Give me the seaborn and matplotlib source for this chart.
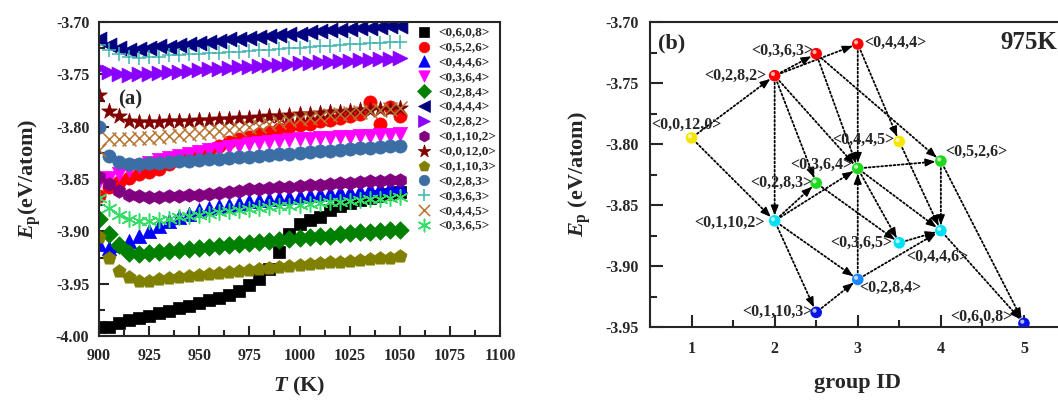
import matplotlib
matplotlib.use("Agg")
import matplotlib.pyplot as plt
import matplotlib.transforms as mtransforms
from matplotlib.ticker import MultipleLocator, FormatStrFormatter
import numpy as np
import seaborn as sns

# ---------------- panel (a): Ep vs T ----------------
temps = np.arange(900, 1051, 5)

ep_0608 = [-3.991, -3.991, -3.988, -3.985, -3.983, -3.981, -3.978, -3.976, -3.973, -3.971, -3.968,
           -3.966, -3.964, -3.961, -3.957, -3.951, -3.946, -3.936, -3.920, -3.903, -3.893, -3.889,
           -3.886, -3.880, -3.876, -3.873, -3.870, -3.868, -3.866, -3.864, -3.862]
ep_0526 = [-3.866, -3.858, -3.853, -3.849, -3.845, -3.843, -3.840, -3.836, -3.832, -3.828, -3.825,
           -3.822, -3.818, -3.815, -3.812, -3.810, -3.807, -3.805, -3.802, -3.800, -3.798, -3.797,
           -3.795, -3.794, -3.792, -3.790, -3.788, -3.776, -3.797, -3.781, -3.790]
ep_0446 = [-3.912, -3.916, -3.913, -3.909, -3.904, -3.900, -3.895, -3.890, -3.886, -3.883, -3.880,
           -3.878, -3.876, -3.875, -3.873, -3.871, -3.870, -3.869, -3.868, -3.867, -3.866, -3.865,
           -3.864, -3.863, -3.862, -3.862, -3.861, -3.860, -3.859, -3.858, -3.857]
ep_0364 = [-3.853, -3.849, -3.845, -3.841, -3.838, -3.835, -3.832, -3.830, -3.828, -3.826, -3.824,
           -3.822, -3.821, -3.819, -3.818, -3.817, -3.816, -3.815, -3.814, -3.813, -3.812, -3.812,
           -3.811, -3.811, -3.810, -3.810, -3.809, -3.809, -3.808, -3.808, -3.807]
ep_0284 = [-3.888, -3.903, -3.913, -3.921, -3.922, -3.921, -3.920, -3.919, -3.918, -3.917, -3.916,
           -3.915, -3.914, -3.913, -3.912, -3.911, -3.910, -3.909, -3.908, -3.907, -3.906, -3.905,
           -3.904, -3.904, -3.903, -3.902, -3.901, -3.901, -3.900, -3.899, -3.899]
ep_0444 = [-3.716, -3.722, -3.725, -3.727, -3.726, -3.725, -3.723, -3.724, -3.722, -3.721, -3.720,
           -3.719, -3.718, -3.716, -3.716, -3.715, -3.714, -3.713, -3.712, -3.711, -3.711, -3.710,
           -3.709, -3.708, -3.708, -3.707, -3.706, -3.706, -3.705, -3.704, -3.704]
ep_0282 = [-3.744, -3.748, -3.750, -3.751, -3.750, -3.750, -3.749, -3.748, -3.748, -3.747, -3.746,
           -3.745, -3.745, -3.744, -3.743, -3.743, -3.742, -3.741, -3.741, -3.740, -3.739, -3.739,
           -3.738, -3.738, -3.737, -3.737, -3.736, -3.736, -3.735, -3.735, -3.734]
ep_01102 = [-3.848, -3.855, -3.861, -3.865, -3.866, -3.867, -3.867, -3.866, -3.866, -3.865, -3.865,
            -3.864, -3.863, -3.862, -3.861, -3.860, -3.860, -3.859, -3.858, -3.858, -3.857, -3.856,
            -3.856, -3.855, -3.854, -3.854, -3.853, -3.852, -3.852, -3.851, -3.851]
ep_00120 = [-3.770, -3.785, -3.790, -3.795, -3.796, -3.796, -3.796, -3.795, -3.795, -3.795, -3.794,
            -3.794, -3.793, -3.793, -3.792, -3.792, -3.791, -3.790, -3.790, -3.789, -3.788, -3.788,
            -3.787, -3.786, -3.786, -3.785, -3.784, -3.784, -3.783, -3.783, -3.782]
ep_01103 = [-3.905, -3.925, -3.938, -3.944, -3.947, -3.947, -3.946, -3.945, -3.944, -3.943, -3.942,
            -3.941, -3.940, -3.939, -3.938, -3.937, -3.936, -3.935, -3.934, -3.933, -3.932, -3.931,
            -3.930, -3.929, -3.929, -3.928, -3.927, -3.926, -3.925, -3.925, -3.924]
ep_0283 = [-3.800, -3.828, -3.834, -3.836, -3.836, -3.835, -3.835, -3.834, -3.833, -3.833, -3.832,
           -3.831, -3.831, -3.830, -3.829, -3.829, -3.828, -3.827, -3.826, -3.826, -3.825, -3.824,
           -3.823, -3.823, -3.822, -3.821, -3.820, -3.820, -3.819, -3.818, -3.818]
ep_0363 = [-3.722, -3.727, -3.731, -3.733, -3.734, -3.733, -3.733, -3.732, -3.732, -3.731, -3.731,
           -3.730, -3.730, -3.729, -3.729, -3.728, -3.727, -3.727, -3.726, -3.725, -3.725, -3.724,
           -3.723, -3.723, -3.722, -3.721, -3.721, -3.720, -3.720, -3.719, -3.719]
ep_0445 = [-3.822, -3.812, -3.812, -3.812, -3.811, -3.811, -3.810, -3.809, -3.808, -3.807, -3.806,
           -3.805, -3.804, -3.803, -3.802, -3.800, -3.799, -3.797, -3.796, -3.794, -3.793, -3.792,
           -3.791, -3.789, -3.788, -3.787, -3.786, -3.785, -3.784, -3.783, -3.782]
ep_0365 = [-3.868, -3.878, -3.884, -3.888, -3.890, -3.890, -3.889, -3.888, -3.886, -3.885, -3.884,
           -3.883, -3.882, -3.881, -3.880, -3.879, -3.878, -3.877, -3.876, -3.876, -3.875, -3.874,
           -3.873, -3.872, -3.872, -3.871, -3.870, -3.869, -3.869, -3.868, -3.867]

series_labels = ["<0,6,0,8>", "<0,5,2,6>", "<0,4,4,6>", "<0,3,6,4>", "<0,2,8,4>", "<0,4,4,4>",
                 "<0,2,8,2>", "<0,1,10,2>", "<0,0,12,0>", "<0,1,10,3>", "<0,2,8,3>", "<0,3,6,3>",
                 "<0,4,4,5>", "<0,3,6,5>"]
series_values = [ep_0608, ep_0526, ep_0446, ep_0364, ep_0284, ep_0444, ep_0282, ep_01102,
                 ep_00120, ep_01103, ep_0283, ep_0363, ep_0445, ep_0365]
series_colors = ["#000000", "#ff0000", "#0000ff", "#ff00ff", "#008000", "#000080", "#8a00ff",
                 "#800080", "#800000", "#808000", "#3a6ea5", "#3fb5b0", "#b8732e", "#33dd66"]
series_markers = ["s", "o", "^", "v", "D", "<", ">", "h", "*", "p", "o", "+", "x", (6, 2, 0)]
series_sizes = [85, 90, 105, 105, 80, 115, 115, 95, 140, 100, 90, 110, 100, 125]

# ---------------- panel (b): network at 975 K ----------------
node_labels = ["<0,0,12,0>", "<0,2,8,2>", "<0,3,6,3>", "<0,4,4,4>", "<0,4,4,5>", "<0,5,2,6>",
               "<0,3,6,4>", "<0,2,8,3>", "<0,1,10,2>", "<0,3,6,5>", "<0,4,4,6>", "<0,2,8,4>",
               "<0,1,10,3>", "<0,6,0,8>"]
node_group = [1, 2, 2.5, 3, 3.5, 4, 3, 2.5, 2, 3.5, 4, 3, 2.5, 5]
node_ep = [-3.795, -3.744, -3.726, -3.718, -3.798, -3.814, -3.820, -3.832, -3.863, -3.881,
           -3.871, -3.911, -3.938, -3.947]
node_colors = ["#f5e600", "#ff0000", "#ff0000", "#ff0000", "#f5e600", "#1fd81f", "#1fd81f",
               "#1fd81f", "#00e1f5", "#00e1f5", "#00e1f5", "#1e86ff", "#0a14e6", "#0a14e6"]
transitions = [
    ("<0,0,12,0>", "<0,2,8,2>"), ("<0,0,12,0>", "<0,1,10,2>"),
    ("<0,2,8,2>", "<0,3,6,3>"), ("<0,2,8,2>", "<0,4,4,4>"), ("<0,2,8,2>", "<0,1,10,2>"),
    ("<0,2,8,2>", "<0,2,8,3>"), ("<0,2,8,2>", "<0,3,6,4>"),
    ("<0,3,6,3>", "<0,3,6,4>"), ("<0,3,6,3>", "<0,5,2,6>"),
    ("<0,4,4,4>", "<0,3,6,4>"), ("<0,4,4,4>", "<0,4,4,5>"),
    ("<0,4,4,5>", "<0,4,4,6>"),
    ("<0,3,6,4>", "<0,5,2,6>"), ("<0,3,6,4>", "<0,3,6,5>"), ("<0,3,6,4>", "<0,4,4,6>"),
    ("<0,2,8,3>", "<0,3,6,5>"),
    ("<0,1,10,2>", "<0,2,8,3>"), ("<0,1,10,2>", "<0,3,6,4>"), ("<0,1,10,2>", "<0,2,8,4>"),
    ("<0,1,10,2>", "<0,1,10,3>"),
    ("<0,1,10,3>", "<0,2,8,4>"),
    ("<0,2,8,4>", "<0,3,6,4>"), ("<0,2,8,4>", "<0,4,4,6>"),
    ("<0,3,6,5>", "<0,4,4,6>"),
    ("<0,5,2,6>", "<0,4,4,6>"), ("<0,5,2,6>", "<0,6,0,8>"),
    ("<0,4,4,6>", "<0,6,0,8>"),
]
# label placement: (dx, dy) in points, horizontal alignment
label_place = {
    "<0,0,12,0>": (-3.6, 9.4, "center"), "<0,2,8,2>": (-5.8, 0, "right"),
    "<0,3,6,3>": (-2.2, 2.2, "right"), "<0,4,4,4>": (5, 0.7, "left"),
    "<0,4,4,5>": (-3.6, 1.4, "right"), "<0,5,2,6>": (2.9, 6.5, "left"),
    "<0,3,6,4>": (-4.3, 2.2, "right"), "<0,2,8,3>": (-2.9, 0, "right"),
    "<0,1,10,2>": (-7.2, -1.4, "right"), "<0,3,6,5>": (-5, 0, "right"),
    "<0,4,4,6>": (-2.2, -18.7, "center"), "<0,2,8,4>": (1.4, -5.8, "left"),
    "<0,1,10,3>": (-2.9, 0, "right"), "<0,6,0,8>": (-8.6, 4.3, "right"),
}

sns.set_style("ticks")
plt.rcParams["font.family"] = ["Liberation Serif", "DejaVu Serif"]
plt.rcParams["font.weight"] = "bold"
plt.rcParams["axes.labelweight"] = "bold"
plt.rcParams["mathtext.fontset"] = "custom"
plt.rcParams["mathtext.rm"] = "Liberation Serif:bold"
plt.rcParams["mathtext.it"] = "Liberation Serif:italic:bold"
plt.rcParams["mathtext.bf"] = "Liberation Serif:bold"
plt.rcParams["axes.unicode_minus"] = False

fig = plt.figure(figsize=(10.58, 4.01), dpi=100)
ax1 = fig.add_axes([99 / 1058, 1 - 336 / 401, 401 / 1058, 314 / 401])
ax2 = fig.add_axes([650 / 1058, 1 - 327 / 401, 415.5 / 1058, 305 / 401])

for lab, vals, col, mk, sz in zip(series_labels, series_values, series_colors,
                                  series_markers, series_sizes):
    if mk in ("+", "x") or isinstance(mk, tuple):
        sns.scatterplot(x=temps, y=vals, marker=mk, color=col, s=sz, linewidth=1.1,
                        label=lab, ax=ax1)
    else:
        sns.scatterplot(x=temps, y=vals, marker=mk, color=col, edgecolor=col, s=sz,
                        linewidth=0.5, label=lab, ax=ax1)

ax1.set_xlim(900, 1100)
ax1.set_ylim(-4.0, -3.7)
ax1.xaxis.set_major_locator(MultipleLocator(25))
ax1.xaxis.set_minor_locator(MultipleLocator(12.5))
ax1.yaxis.set_major_locator(MultipleLocator(0.05))
ax1.yaxis.set_minor_locator(MultipleLocator(0.025))
ax1.yaxis.set_major_formatter(FormatStrFormatter("%.2f"))
ax1.tick_params(which="both", direction="in", width=1.5, labelsize=11.5)
ax1.tick_params(which="major", length=7)
ax1.tick_params(which="minor", length=4)
ax1.tick_params(axis="x", pad=9)
ax1.tick_params(axis="y", pad=7)
for sp in ax1.spines.values():
    sp.set_linewidth(1.5)
ax1.set_xlabel(r"$T$ (K)", fontsize=16, fontweight="bold")
ax1.set_ylabel(r"$E_\mathrm{p}$(eV/atom)", fontsize=16, fontweight="bold")
ax1.xaxis.set_label_coords(0.5, -0.125)
ax1.yaxis.set_label_coords(-0.14, 0.5)
ax1.text(0.047, 0.752, "(a)", transform=ax1.transAxes, fontsize=15, fontweight="bold",
         ha="left", va="center")
ax1.legend(loc="upper right", bbox_to_anchor=(1.0, 1.0), frameon=False,
           prop={"family": "Liberation Serif", "weight": "bold", "size": 9.5},
           labelspacing=0.2, handlelength=1.0, handletextpad=0.6, borderpad=0.3,
           borderaxespad=0.0, markerscale=0.8)

# panel (b)
ax2.set_xlim(0.5, 5.5)
ax2.set_ylim(-3.95, -3.70)
pos = {lab: (gx, ep) for lab, gx, ep in zip(node_labels, node_group, node_ep)}

arrow_line = dict(arrowstyle="-", linestyle=(0, (1, 1.3)), color="black", lw=1.3,
                  shrinkA=5, shrinkB=5)
arrow_head = dict(arrowstyle="-|>,head_length=0.5,head_width=0.2", color="black", lw=1.0,
                  shrinkA=0, shrinkB=4, mutation_scale=12)
for src, dst in transitions:
    x0, y0 = pos[src]
    x1, y1 = pos[dst]
    ax2.annotate("", xy=(x1, y1), xytext=(x0, y0), arrowprops=arrow_line, zorder=2)
    p0 = ax2.transData.transform((x0, y0))
    p1 = ax2.transData.transform((x1, y1))
    d = (p0 - p1) / np.hypot(*(p0 - p1))
    ax2.annotate("", xy=(x1, y1), xytext=(d[0] * 10.5, d[1] * 10.5),
                 textcoords="offset points", arrowprops=arrow_head, zorder=3)

sns.scatterplot(x=node_group, y=node_ep, hue=node_labels,
                palette=dict(zip(node_labels, node_colors)),
                s=70, edgecolor="none", legend=False, ax=ax2, zorder=4)
shine = mtransforms.offset_copy(ax2.transData, fig=fig, x=-1.2, y=1.2, units="points")
ax2.scatter(node_group, node_ep, s=9, color="white", alpha=0.7, edgecolor="none",
            transform=shine, zorder=5)

for lab in node_labels:
    dx, dy, ha = label_place[lab]
    ax2.annotate(lab, xy=pos[lab], xytext=(dx, dy), textcoords="offset points", ha=ha,
                 va="center", fontsize=11.5, fontweight="bold", zorder=6)

ax2.text(5.4, -3.717, "975K", fontsize=18, fontweight="bold", ha="right", va="center")
ax2.text(0.019, 0.928, "(b)", transform=ax2.transAxes, fontsize=16, fontweight="bold",
         ha="left", va="center")

ax2.xaxis.set_major_locator(MultipleLocator(1))
ax2.xaxis.set_minor_locator(MultipleLocator(0.5))
ax2.yaxis.set_major_locator(MultipleLocator(0.05))
ax2.yaxis.set_minor_locator(MultipleLocator(0.025))
ax2.yaxis.set_major_formatter(FormatStrFormatter("%.2f"))
ax2.tick_params(which="both", direction="in", width=1.5, labelsize=11.5)
ax2.tick_params(which="major", length=9)
ax2.tick_params(which="minor", length=5)
ax2.tick_params(axis="x", pad=10)
ax2.tick_params(axis="y", pad=8)
for sp in ax2.spines.values():
    sp.set_linewidth(1.5)
ax2.set_xlabel("group ID", fontsize=16, fontweight="bold")
ax2.set_ylabel(r"$E_\mathrm{p}$ (eV/atom)", fontsize=16, fontweight="bold")
ax2.xaxis.set_label_coords(0.5, -0.15)
ax2.yaxis.set_label_coords(-0.137, 0.5)

fig.canvas.draw()
for ax in (ax1, ax2):
    for lbl in ax.get_xticklabels() + ax.get_yticklabels():
        lbl.set_fontweight("bold")

fig.savefig("out.png", dpi=100)
